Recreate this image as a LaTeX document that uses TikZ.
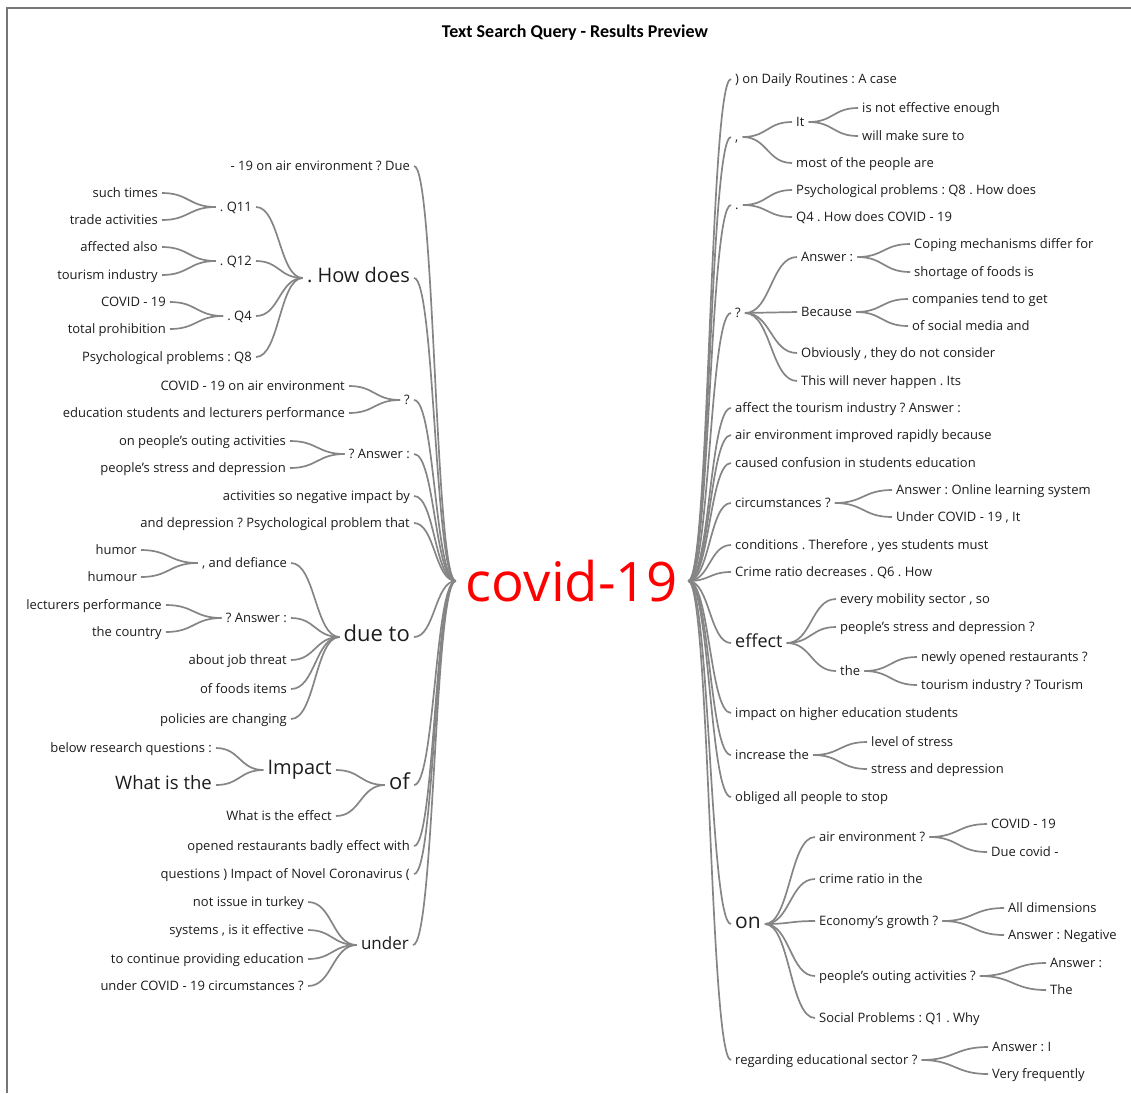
\documentclass[tikz,border=0pt]{standalone}
\usepackage{fontspec}
\setmainfont{Open Sans}
\newfontfamily\titlefont{Carlito}
\usetikzlibrary{calc}
\definecolor{txt}{HTML}{1C1C1C}
\definecolor{ln}{HTML}{858585}
\definecolor{fr}{HTML}{777777}
\tikzset{
  base/.style={inner xsep=4pt, inner ysep=0pt, text height=2.0ex, text depth=0.2ex, font=\fontsize{13}{15}\selectfont, text=txt},
  lnode/.style={base, anchor=east},
  rnode/.style={base, anchor=west},
  bigtxt/.style={font=\fontsize{#1}{#1}\selectfont},
  bigtxt/.default=18,
  lnk/.style={draw=ln, line width=1.7pt, to path={let \p1=(\tikztostart), \p2=(\tikztotarget), \p3=($(\tikztostart)!0.5!(\tikztotarget)$) in .. controls (\x3,\y1) and (\x3,\y2) .. (\tikztotarget)}}
}
\begin{document}
\frenchspacing
\begin{tikzpicture}[x=1pt,y=-1pt]
\useasboundingbox (0,0) rectangle (1131,1093);
\draw[fr, line width=2pt] (7,1093) -- (7,8) -- (1131,8);
\node[font=\titlefont\bfseries\fontsize{18}{20}\selectfont, text=black] (title) at (575,33) {Text Search Query - Results Preview};
\node[font=\fontsize{54.5}{60}\selectfont, text=red, inner xsep=10pt, inner ysep=0pt] (root) at (572,581) {covid-19};
% ---------- left side ----------
\node[lnode] (a1) at (414,166) {- 19 on air environment ? Due};
\node[lnode,bigtxt=20] (a2) at (414,278) {. How does};
\node[lnode] (a3) at (414,400) {?};
\node[lnode] (a4) at (414,454) {? Answer :};
\node[lnode] (a5) at (414,496) {activities so negative impact by};
\node[lnode] (a6) at (414,523) {and depression ? Psychological problem that};
\node[lnode,bigtxt=22] (a7) at (414,637) {due to};
\node[lnode,bigtxt=22] (a8) at (414,785) {of};
\node[lnode] (a9) at (414,846) {opened restaurants badly effect with};
\node[lnode] (a10) at (414,874) {questions ) Impact of Novel Coronavirus (};
\node[lnode,bigtxt=17] (a11) at (413,945) {under};
% How does
\node[lnode] (b1) at (256,207) {. Q11};
\node[lnode] (b2) at (256,261) {. Q12};
\node[lnode] (b3) at (256,316) {. Q4};
\node[lnode] (b4) at (256,357) {Psychological problems : Q8};
\node[lnode] (c1) at (162,193) {such times};
\node[lnode] (c2) at (162,220) {trade activities};
\node[lnode] (c3) at (162,247) {affected also};
\node[lnode] (c4) at (162,275) {tourism industry};
\node[lnode] (c5) at (170,302) {COVID - 19};
\node[lnode] (c6) at (170,329) {total prohibition};
% ?
\node[lnode] (d1) at (349,386) {COVID - 19 on air environment};
\node[lnode] (d2) at (349,413) {education students and lecturers performance};
% ? Answer :
\node[lnode] (e1) at (290,441) {on people’s outing activities};
\node[lnode] (e2) at (290,468) {people’s stress and depression};
% due to
\node[lnode] (f1) at (291,563) {, and defiance};
\node[lnode] (f2) at (291,618) {? Answer :};
\node[lnode] (f3) at (291,660) {about job threat};
\node[lnode] (f4) at (291,689) {of foods items};
\node[lnode] (f5) at (291,719) {policies are changing};
\node[lnode] (g1) at (141,550) {humor};
\node[lnode] (g2) at (141,577) {humour};
\node[lnode] (g3) at (166,605) {lecturers performance};
\node[lnode] (g4) at (166,632) {the country};
% of
\node[lnode,bigtxt=20] (h1) at (336,770) {Impact};
\node[lnode] (h2) at (336,816) {What is the effect};
\node[lnode] (i1) at (216,748) {below research questions :};
\node[lnode,bigtxt=18.5] (i2) at (216,785) {What is the};
% under
\node[lnode] (j1) at (308,902) {not issue in turkey};
\node[lnode] (j2) at (308,930) {systems , is it effective};
\node[lnode] (j3) at (308,959) {to continue providing education};
\node[lnode] (j4) at (308,986) {under COVID - 19 circumstances ?};
% left links
\foreach \c in {a1,a2,a3,a4,a5,a6,a7,a8,a9,a10,a11} \draw[lnk] (\c.east) to (root.west);
\foreach \c in {b1,b2,b3,b4} \draw[lnk] (\c.east) to (a2.west);
\foreach \c in {c1,c2} \draw[lnk] (\c.east) to (b1.west);
\foreach \c in {c3,c4} \draw[lnk] (\c.east) to (b2.west);
\foreach \c in {c5,c6} \draw[lnk] (\c.east) to (b3.west);
\foreach \c in {d1,d2} \draw[lnk] (\c.east) to (a3.west);
\foreach \c in {e1,e2} \draw[lnk] (\c.east) to (a4.west);
\foreach \c in {f1,f2,f3,f4,f5} \draw[lnk] (\c.east) to (a7.west);
\foreach \c in {g1,g2} \draw[lnk] (\c.east) to (f1.west);
\foreach \c in {g3,g4} \draw[lnk] (\c.east) to (f2.west);
\foreach \c in {h1,h2} \draw[lnk] (\c.east) to (a8.west);
\foreach \c in {i1,i2} \draw[lnk] (\c.east) to (h1.west);
\foreach \c in {j1,j2,j3,j4} \draw[lnk] (\c.east) to (a11.west);
% ---------- right side ----------
\node[rnode] (r1) at (731,79) {) on Daily Routines : A case};
\node[rnode] (r2) at (731,137) {,};
\node[rnode] (r3) at (731,205) {.};
\node[rnode] (r4) at (731,313) {?};
\node[rnode] (r5) at (731,408) {affect the tourism industry ? Answer :};
\node[rnode] (r6) at (731,435) {air environment improved rapidly because};
\node[rnode] (r7) at (731,463) {caused confusion in students education};
\node[rnode] (r8) at (731,503) {circumstances ?};
\node[rnode] (r9) at (731,545) {conditions . Therefore , yes students must};
\node[rnode] (r10) at (731,572) {Crime ratio decreases . Q6 . How};
\node[rnode,bigtxt=18] (r11) at (731,643) {effect};
\node[rnode] (r12) at (731,713) {impact on higher education students};
\node[rnode] (r13) at (731,755) {increase the};
\node[rnode] (r14) at (731,797) {obliged all people to stop};
\node[rnode,bigtxt=21] (r15) at (731,924) {on};
\node[rnode] (r16) at (731,1060) {regarding educational sector ?};
% ,
\node[rnode] (s1) at (792,122) {It};
\node[rnode] (s2) at (792,163) {most of the people are};
\node[rnode] (s3) at (858,108) {is not effective enough};
\node[rnode] (s4) at (858,136) {will make sure to};
% .
\node[rnode] (t1) at (792,190) {Psychological problems : Q8 . How does};
\node[rnode] (t2) at (792,217) {Q4 . How does COVID - 19};
% ?
\node[rnode] (u1) at (797,257) {Answer :};
\node[rnode] (u2) at (797,312) {Because};
\node[rnode] (u3) at (797,353) {Obviously , they do not consider};
\node[rnode] (u4) at (797,381) {This will never happen . Its};
\node[rnode] (v1) at (910,244) {Coping mechanisms differ for};
\node[rnode] (v2) at (910,272) {shortage of foods is};
\node[rnode] (v3) at (908,299) {companies tend to get};
\node[rnode] (v4) at (908,326) {of social media and};
% circumstances ?
\node[rnode] (w1) at (892,490) {Answer : Online learning system};
\node[rnode] (w2) at (892,517) {Under COVID - 19 , It};
% effect
\node[rnode] (x1) at (836,599) {every mobility sector , so};
\node[rnode] (x2) at (836,627) {people’s stress and depression ?};
\node[rnode] (x3) at (836,671) {the};
\node[rnode] (x4) at (917,657) {newly opened restaurants ?};
\node[rnode] (x5) at (917,685) {tourism industry ? Tourism};
% increase the
\node[rnode] (y1) at (867,742) {level of stress};
\node[rnode] (y2) at (867,769) {stress and depression};
% on
\node[rnode] (z1) at (815,837) {air environment ?};
\node[rnode] (z2) at (815,879) {crime ratio in the};
\node[rnode] (z3) at (815,921) {Economy’s growth ?};
\node[rnode] (z4) at (815,976) {people’s outing activities ?};
\node[rnode] (z5) at (815,1018) {Social Problems : Q1 . Why};
\node[rnode] (k1) at (987,824) {COVID - 19};
\node[rnode] (k2) at (987,852) {Due covid -};
\node[rnode] (k3) at (1004,908) {All dimensions};
\node[rnode] (k4) at (1004,935) {Answer : Negative};
\node[rnode] (k5) at (1046,963) {Answer :};
\node[rnode] (k6) at (1046,990) {The};
% regarding
\node[rnode] (m1) at (988,1047) {Answer : I};
\node[rnode] (m2) at (988,1074) {Very frequently};
% right links
\foreach \c in {r1,r2,r3,r4,r5,r6,r7,r8,r9,r10,r11,r12,r13,r14,r15,r16} \draw[lnk] (root.east) to (\c.west);
\foreach \c in {s1,s2} \draw[lnk] (r2.east) to (\c.west);
\foreach \c in {s3,s4} \draw[lnk] (s1.east) to (\c.west);
\foreach \c in {t1,t2} \draw[lnk] (r3.east) to (\c.west);
\foreach \c in {u1,u2,u3,u4} \draw[lnk] (r4.east) to (\c.west);
\foreach \c in {v1,v2} \draw[lnk] (u1.east) to (\c.west);
\foreach \c in {v3,v4} \draw[lnk] (u2.east) to (\c.west);
\foreach \c in {w1,w2} \draw[lnk] (r8.east) to (\c.west);
\foreach \c in {x1,x2,x3} \draw[lnk] (r11.east) to (\c.west);
\foreach \c in {x4,x5} \draw[lnk] (x3.east) to (\c.west);
\foreach \c in {y1,y2} \draw[lnk] (r13.east) to (\c.west);
\foreach \c in {z1,z2,z3,z4,z5} \draw[lnk] (r15.east) to (\c.west);
\foreach \c in {k1,k2} \draw[lnk] (z1.east) to (\c.west);
\foreach \c in {k3,k4} \draw[lnk] (z3.east) to (\c.west);
\foreach \c in {k5,k6} \draw[lnk] (z4.east) to (\c.west);
\foreach \c in {m1,m2} \draw[lnk] (r16.east) to (\c.west);
\end{tikzpicture}
\end{document}
